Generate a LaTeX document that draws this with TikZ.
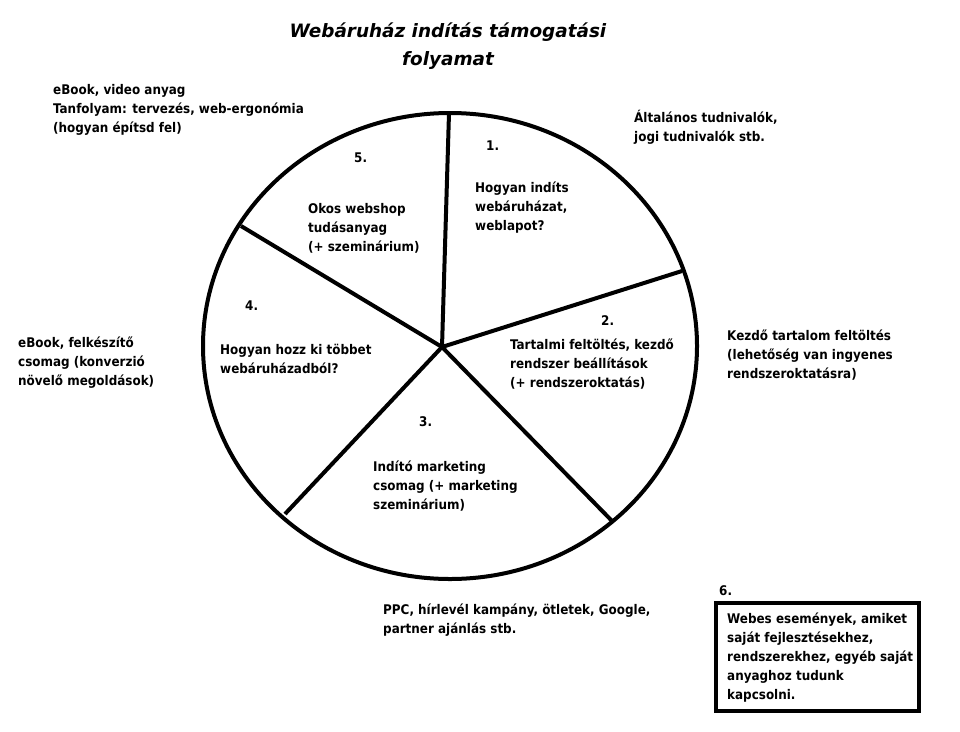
\documentclass[tikz,border=0pt]{standalone}
\usepackage{fontspec}
\setmainfont{DejaVu Sans Condensed}
\newfontfamily\titlefont{DejaVu Sans}
\begin{document}
\begin{tikzpicture}[x=1pt,y=-1pt,
  txt/.style={anchor=west,align=left,inner sep=0pt,font=\bfseries\fontsize{13.3}{19}\selectfont},
  num/.style={anchor=west,inner sep=0pt,font=\bfseries\fontsize{13.3}{19}\selectfont},
  thick line/.style={line width=4pt}]
\useasboundingbox[fill=white] (0,0) rectangle (960,731);
% title
\node[align=center,inner sep=0pt,font=\titlefont\bfseries\itshape\fontsize{18.4}{28}\selectfont] (title) at (448,46) {Webáruház indítás támogatási\\folyamat};
% circle
\draw[thick line] (450,346) ellipse [x radius=247pt, y radius=233pt];
\coordinate (hub) at (442,347);
\coordinate (e1) at (449,113);
\coordinate (e2) at (682,271);
\coordinate (e3) at (613,522);
\coordinate (e4) at (285,514);
\coordinate (e5) at (241,226);
\foreach \e in {e1,e2,e3,e4,e5} \draw[thick line] (hub) -- (\e);
% outside texts
\node[txt] (t5out) at (53,110) {eBook, video anyag\\Tanfolyam: tervezés, web-ergonómia\\(hogyan építsd fel)};
\node[txt] (t1out) at (634,127.5) {Általános tudnivalók,\\jogi tudnivalók stb.};
\node[txt] (t2out) at (727,355) {Kezdő tartalom feltöltés\\(lehetőség van ingyenes\\rendszeroktatásra)};
\node[txt] (t4out) at (18,363) {eBook, felkészítő\\csomag (konverzió\\növelő megoldások)};
\node[txt] (t3out) at (383,620.5) {PPC, hírlevél kampány, ötletek, Google,\\partner ajánlás stb.};
% inside texts
\node[num] (n1) at (486,146) {1.};
\node[txt] (s1) at (475,208) {Hogyan indíts\\webáruházat,\\weblapot?};
\node[num] (n5) at (354,158) {5.};
\node[txt] (s5) at (308,228.5) {Okos webshop\\tudásanyag\\(+ szeminárium)};
\node[num] (n4) at (245,306) {4.};
\node[txt] (s4) at (220,358.5) {Hogyan hozz ki többet\\webáruházadból?};
\node[num] (n2) at (601,321) {2.};
\node[txt] (s2) at (510,364) {Tartalmi feltöltés, kezdő\\rendszer beállítások\\(+ rendszeroktatás)};
\node[num] (n3) at (419,422) {3.};
\node[txt] (s3) at (373,486) {Indító marketing\\csomag (+ marketing\\szeminárium)};
% box 6
\node[num] (n6) at (719,591) {6.};
\draw[line width=3.5pt] (716,603) rectangle (919,711);
\node[txt] (s6) at (727,658) {Webes események, amiket\\saját fejlesztésekhez,\\rendszerekhez, egyéb saját\\anyaghoz tudunk\\kapcsolni.};
\end{tikzpicture}
\end{document}
